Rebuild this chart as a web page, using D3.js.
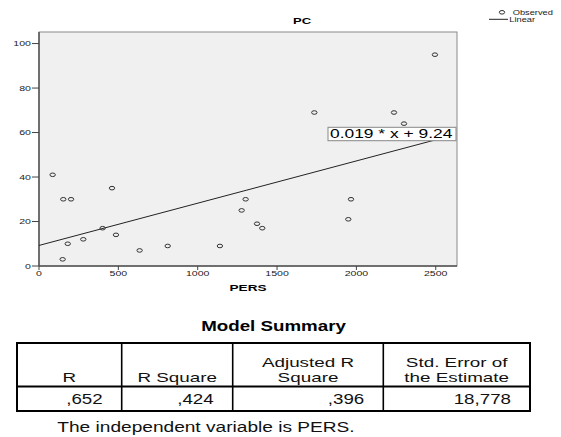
<!DOCTYPE html>
<html>
<head>
<meta charset="utf-8">
<script src="https://cdn.jsdelivr.net/npm/d3@7"></script>
<style>
  body { margin: 0; background: #fff; }
  svg { display: block; font-family: "Liberation Sans", Arial, sans-serif; }
</style>
</head>
<body>
<svg id="chart"></svg>
<script>
// data
var pers = [86, 153, 202, 460, 181, 149, 279, 401, 485, 634, 811, 1140, 1277, 1302, 1374, 1407, 1966, 1949, 2495, 1735, 2237, 2300];
var pc   = [41, 30, 30, 35, 10, 3, 12, 17, 14, 7, 9, 9, 25, 30, 19, 17, 30, 21, 95, 69, 69, 64];
var slope = 0.019, intercept = 9.24;
var xTicks = [0, 500, 1000, 1500, 2000, 2500];
var yTicks = [0, 20, 40, 60, 80, 100];
var tableHeaders = [["R"], ["R Square"], ["Adjusted R", "Square"], ["Std. Error of", "the Estimate"]];
var tableValues = [",652", ",424", ",396", "18,778"];

var W = 561, H = 437;
var svg = d3.select("#chart").attr("width", W).attr("height", H);

// the source picture is stretched sideways, text is widened to match
var sxChart = 1.45, sxTable = 1.25;

function stext(g, x, y, str, sx, size, anchor, weight) {
    return g.append("text")
        .attr("transform", `translate(${x},${y}) scale(${sx},1)`)
        .attr("text-anchor", anchor || "start")
        .attr("font-size", size)
        .attr("font-weight", weight || "normal")
        .attr("fill", "#000")
        .text(str);
}

var plot = {left: 39, right: 457, top: 32, bottom: 266};
var x = d3.scaleLinear().domain([0, 2634]).range([plot.left, plot.right]);
var y = d3.scaleLinear().domain([0, 105.2]).range([plot.bottom, plot.top]);

var chart = svg.append("g");

chart.append("rect")
    .attr("x", plot.left).attr("y", plot.top)
    .attr("width", plot.right - plot.left).attr("height", plot.bottom - plot.top)
    .attr("fill", "#f0f0f0").attr("stroke", "#8a8a8a").attr("stroke-width", 1);

// axes
chart.append("line").attr("x1", plot.left).attr("x2", plot.left)
    .attr("y1", plot.top).attr("y2", plot.bottom)
    .attr("stroke", "#555").attr("stroke-width", 1.5);
chart.append("line").attr("x1", plot.left).attr("x2", plot.right)
    .attr("y1", plot.bottom).attr("y2", plot.bottom)
    .attr("stroke", "#555").attr("stroke-width", 1.5);

yTicks.forEach(function(t) {
    chart.append("line").attr("x1", plot.left - 7).attr("x2", plot.left)
        .attr("y1", y(t)).attr("y2", y(t)).attr("stroke", "#444");
    stext(chart, plot.left - 8, y(t) + 2.6, t, sxChart, 7.3, "end").attr("fill", "#222");
});
xTicks.forEach(function(t) {
    chart.append("line").attr("x1", x(t)).attr("x2", x(t))
        .attr("y1", plot.bottom).attr("y2", plot.bottom + 4).attr("stroke", "#444");
    stext(chart, x(t), 276, t, sxChart, 7.3, "middle").attr("fill", "#222");
});

stext(chart, 302, 24, "PC", sxChart, 9, "middle", "bold");
stext(chart, (plot.left + plot.right) / 2, 291, "PERS", sxChart, 9.4, "middle", "bold");

// fit line
var xmax = d3.max(pers);
chart.append("line")
    .attr("x1", x(0)).attr("y1", y(intercept))
    .attr("x2", x(xmax)).attr("y2", y(slope * xmax + intercept))
    .attr("stroke", "#222").attr("stroke-width", 1);

// observed points
chart.selectAll("ellipse.obs")
    .data(d3.range(pers.length))
    .enter().append("ellipse")
    .attr("class", "obs")
    .attr("cx", function(i) { return x(pers[i]); })
    .attr("cy", function(i) { return y(pc[i]); })
    .attr("rx", 2.7).attr("ry", 1.8)
    .attr("fill", "none").attr("stroke", "#333").attr("stroke-width", 1);

// equation label
chart.append("rect").attr("x", 328).attr("y", 127.3).attr("width", 128).attr("height", 13.4)
    .attr("fill", "#fff").attr("stroke", "#888").attr("stroke-width", 1);
stext(chart, 330, 138.3, slope + " * x + " + intercept, sxChart, 12, "start");

// legend
chart.append("ellipse").attr("cx", 502).attr("cy", 12.3).attr("rx", 2.7).attr("ry", 1.8)
    .attr("fill", "none").attr("stroke", "#333");
stext(chart, 512.7, 15, "Observed", sxChart, 6.4, "start").attr("fill", "#222");
chart.append("line").attr("x1", 489).attr("x2", 508).attr("y1", 19.3).attr("y2", 19.3)
    .attr("stroke", "#222");
stext(chart, 509.3, 22, "Linear", sxChart, 6.4, "start").attr("fill", "#222");

// model summary table
var tbl = svg.append("g");
var edges = [17, 121.7, 232.7, 383.3, 530];
var tTop = 343, tMid = 386.5, tBot = 411;

stext(tbl, (edges[0] + edges[4]) / 2, 330.7, "Model Summary", sxTable, 15, "middle", "bold");

tbl.append("rect").attr("x", edges[0]).attr("y", tTop)
    .attr("width", edges[4] - edges[0]).attr("height", tBot - tTop)
    .attr("fill", "none").attr("stroke", "#000").attr("stroke-width", 2);
tbl.append("line").attr("x1", edges[0]).attr("x2", edges[4])
    .attr("y1", tMid).attr("y2", tMid).attr("stroke", "#000").attr("stroke-width", 2);
edges.slice(1, 4).forEach(function(e) {
    tbl.append("line").attr("x1", e).attr("x2", e).attr("y1", tTop).attr("y2", tBot)
        .attr("stroke", "#000").attr("stroke-width", 1.6);
});

tableHeaders.forEach(function(lines, i) {
    var cx = (edges[i] + edges[i + 1]) / 2;
    lines.forEach(function(s, j) {
        var yy = 382 - (lines.length - 1 - j) * 15;
        stext(tbl, cx, yy, s, 1.45, 13, "middle").attr("fill", "#111");
    });
    stext(tbl, edges[i + 1] - 19, 403.5, tableValues[i], sxTable, 15, "end").attr("fill", "#111");
});

stext(svg, 57.3, 431.7, "The independent variable is PERS.", sxTable, 15.3, "start").attr("fill", "#111");
</script>
</body>
</html>
